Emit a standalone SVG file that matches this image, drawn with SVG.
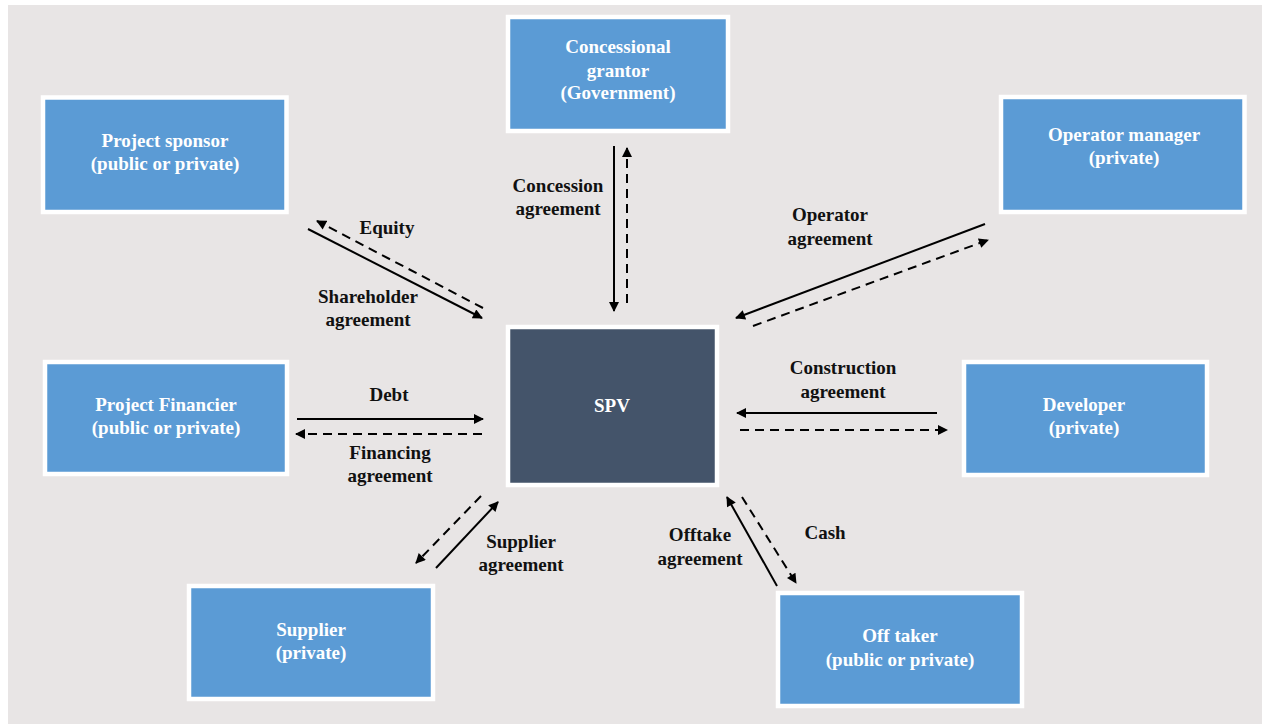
<svg xmlns="http://www.w3.org/2000/svg" width="1266" height="727" viewBox="0 0 1266 727">
<defs>
<marker id="ah" viewBox="0 0 10 10" refX="9" refY="5" markerWidth="5.5" markerHeight="5" orient="auto-start-reverse" markerUnits="strokeWidth">
<path d="M0,0 L10,5 L0,10 z" fill="#000"/>
</marker>
<style>
.box{fill:#5b9bd5;stroke:#ffffff;stroke-width:4.5}
.spv{fill:#44546a;stroke:#ffffff;stroke-width:4.5}
.bt{font-family:"Liberation Serif","Times New Roman","DejaVu Serif",serif;font-weight:bold;font-size:19px;fill:#ffffff;text-anchor:middle}
.lb{font-family:"Liberation Serif","Times New Roman","DejaVu Serif",serif;font-weight:bold;font-size:19px;fill:#111111;text-anchor:middle}
.s{stroke:#000;stroke-width:2;fill:none;marker-end:url(#ah)}
.d{stroke:#000;stroke-width:2;fill:none;stroke-dasharray:9 6;marker-end:url(#ah)}
</style>
</defs>
<rect x="0" y="0" width="1266" height="727" fill="#ffffff"/>
<rect x="8" y="5" width="1254" height="719" fill="#e8e5e5"/>

<g id="concessional">
<rect class="box" x="508" y="17" width="220" height="114"/>
<text class="bt" x="618" y="53">Concessional</text>
<text class="bt" x="618" y="77">grantor</text>
<text class="bt" x="618" y="99">(Government)</text>
</g>
<g id="sponsor">
<rect class="box" x="43" y="97.5" width="243.5" height="114.5"/>
<text class="bt" x="165" y="147">Project sponsor</text>
<text class="bt" x="165" y="170">(public or private)</text>
</g>
<g id="operator">
<rect class="box" x="1001" y="97" width="243.5" height="115"/>
<text class="bt" x="1124" y="141">Operator manager</text>
<text class="bt" x="1124" y="164">(private)</text>
</g>
<g id="spv">
<rect class="spv" x="508" y="327" width="209" height="158"/>
<text class="bt" x="612" y="412">SPV</text>
</g>
<g id="financier">
<rect class="box" x="45" y="362" width="242" height="112"/>
<text class="bt" x="166" y="411">Project Financier</text>
<text class="bt" x="166" y="434">(public or private)</text>
</g>
<g id="developer">
<rect class="box" x="964" y="362" width="243" height="113"/>
<text class="bt" x="1084" y="411">Developer</text>
<text class="bt" x="1084" y="434">(private)</text>
</g>
<g id="supplier">
<rect class="box" x="189" y="586" width="244" height="113"/>
<text class="bt" x="311" y="636">Supplier</text>
<text class="bt" x="311" y="659">(private)</text>
</g>
<g id="offtaker">
<rect class="box" x="778" y="593" width="244" height="113"/>
<text class="bt" x="900" y="642">Off taker</text>
<text class="bt" x="900" y="666">(public or private)</text>
</g>

<g id="connectors">
<line class="s" x1="308" y1="229" x2="482" y2="318"/>
<line class="d" x1="483" y1="308" x2="317" y2="221"/>
<line class="s" x1="614" y1="146" x2="614" y2="311"/>
<line class="d" x1="627" y1="303" x2="627" y2="148"/>
<line class="s" x1="985" y1="224" x2="736" y2="318"/>
<line class="d" x1="753" y1="326" x2="988" y2="240"/>
<line class="s" x1="297" y1="419" x2="483" y2="419"/>
<line class="d" x1="482" y1="434" x2="296" y2="434"/>
<line class="s" x1="937" y1="413" x2="737" y2="413"/>
<line class="d" x1="740" y1="430" x2="947" y2="430"/>
<line class="d" x1="481" y1="496" x2="416" y2="563"/>
<line class="s" x1="436" y1="568" x2="498" y2="502"/>
<line class="s" x1="777" y1="586" x2="727" y2="497"/>
<line class="d" x1="742" y1="497" x2="796" y2="583"/>
</g>

<g id="labels">
<text class="lb" x="387" y="234">Equity</text>
<text class="lb" x="368" y="303">Shareholder</text>
<text class="lb" x="368" y="326">agreement</text>
<text class="lb" x="558" y="192">Concession</text>
<text class="lb" x="558" y="215">agreement</text>
<text class="lb" x="830" y="221">Operator</text>
<text class="lb" x="830" y="245">agreement</text>
<text class="lb" x="389" y="401">Debt</text>
<text class="lb" x="390" y="459">Financing</text>
<text class="lb" x="390" y="482">agreement</text>
<text class="lb" x="843" y="374">Construction</text>
<text class="lb" x="843" y="398">agreement</text>
<text class="lb" x="521" y="548">Supplier</text>
<text class="lb" x="521" y="571">agreement</text>
<text class="lb" x="700" y="541">Offtake</text>
<text class="lb" x="700" y="565">agreement</text>
<text class="lb" x="825" y="539">Cash</text>
</g>
</svg>
